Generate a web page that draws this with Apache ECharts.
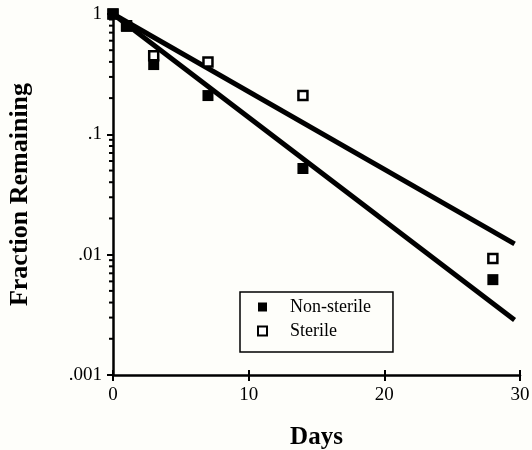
<!DOCTYPE html>
<html><head><meta charset="utf-8">
<script src="https://cdn.jsdelivr.net/npm/echarts@6/dist/echarts.min.js"></script>
<style>html,body{margin:0;padding:0;background:#fefefa}#c{width:532px;height:450px}</style>
</head><body><div id="c"></div>
<script>
const days = [0, 1, 3, 7, 14, 28];
const nonSterile = [1, 0.79, 0.38, 0.21, 0.052, 0.0062];
const sterile = [1, 0.8, 0.45, 0.40, 0.21, 0.0093];
const fitDays = [0, 29.6];
const nonSterileFit = [1, 0.00286];
const sterileFit = [1, 0.0123];
const xTicks = [0, 10, 20, 30];
const yTickLabels = {1: '1', 0.1: '.1', 0.01: '.01', 0.001: '.001'};
const minorTickValues = [];
[0.001, 0.01, 0.1].forEach(d => { for (let k = 2; k <= 9; k++) minorTickValues.push(+(k * d).toPrecision(3)); });

const font = '"Liberation Serif", "DejaVu Serif", serif';
const chart = echarts.init(document.getElementById('c'));
const zip = (a, b) => a.map((v, i) => [v, b[i]]);
chart.setOption({
  backgroundColor: '#fefefa',
  animation: false,
  grid: {left: 113, top: 14, width: 407, height: 361, outerBoundsMode: 'none', containLabel: false},
  xAxis: [{
    type: 'value', min: xTicks[0], max: xTicks[xTicks.length - 1], interval: 10,
    axisLine: {lineStyle: {color: '#000', width: 2.5}},
    axisTick: {length: 6, lineStyle: {color: '#000', width: 2}},
    splitLine: {show: false},
    axisLabel: {color: '#000', fontFamily: font, fontSize: 19, margin: 11},
    name: 'Days', nameLocation: 'middle', nameGap: 50,
    nameTextStyle: {color: '#000', fontFamily: font, fontSize: 25, fontWeight: 'bold'}
  }, {
    type: 'value', min: xTicks[0], max: xTicks[xTicks.length - 1], interval: 10, position: 'bottom',
    axisLine: {show: false}, axisLabel: {show: false}, splitLine: {show: false},
    axisTick: {inside: true, length: 5, lineStyle: {color: '#000', width: 2}}
  }],
  yAxis: [{
    type: 'log', logBase: 10, min: 0.001, max: 1,
    axisLine: {lineStyle: {color: '#000', width: 2.5}},
    axisTick: {length: 6, lineStyle: {color: '#000', width: 2}},
    splitLine: {show: false},
    axisLabel: {color: '#000', fontFamily: font, fontSize: 19, margin: 11,
      formatter: v => yTickLabels[+v.toPrecision(3)] || ''},
    name: 'Fraction Remaining', nameLocation: 'middle', nameGap: 80,
    nameTextStyle: {color: '#000', fontFamily: font, fontSize: 26, fontWeight: 'bold'}
  }],
  legend: {
    data: ['Non-sterile', 'Sterile'],
    orient: 'vertical', left: 240, top: 292,
    padding: [6, 22, 12, 17], itemGap: 6,
    borderColor: '#000', borderWidth: 1.5, backgroundColor: '#fefefa',
    itemWidth: 9, itemHeight: 9,
    textStyle: {color: '#000', fontFamily: font, fontSize: 18, padding: [0, 0, 0, 18]}
  },
  series: [
    {name: 'Non-sterile fit', type: 'line', data: zip(fitDays, nonSterileFit), symbol: 'none',
      lineStyle: {color: '#000', width: 5}, z: 2},
    {name: 'Sterile fit', type: 'line', data: zip(fitDays, sterileFit), symbol: 'none',
      lineStyle: {color: '#000', width: 5}, z: 2},
    {name: 'Sterile', type: 'scatter', data: zip(days, sterile), symbol: 'rect', symbolSize: 9,
      itemStyle: {color: '#fff', borderColor: '#000', borderWidth: 2.5, opacity: 1}, z: 3},
    {name: 'Non-sterile', type: 'scatter', data: zip(days, nonSterile), symbol: 'rect', symbolSize: 11,
      itemStyle: {color: '#000', borderColor: '#000', borderWidth: 0, opacity: 1}, z: 4},
    {name: 'minor', type: 'custom', silent: true, z: 5,
      data: minorTickValues.map(v => [0, v]),
      renderItem: (params, api) => {
        const p = api.coord([0, api.value(1)]);
        return {type: 'line', shape: {x1: p[0] - 4, y1: p[1], x2: p[0], y2: p[1]},
          style: {stroke: '#000', lineWidth: 2}};
      }}
  ]
});
</script></body></html>
